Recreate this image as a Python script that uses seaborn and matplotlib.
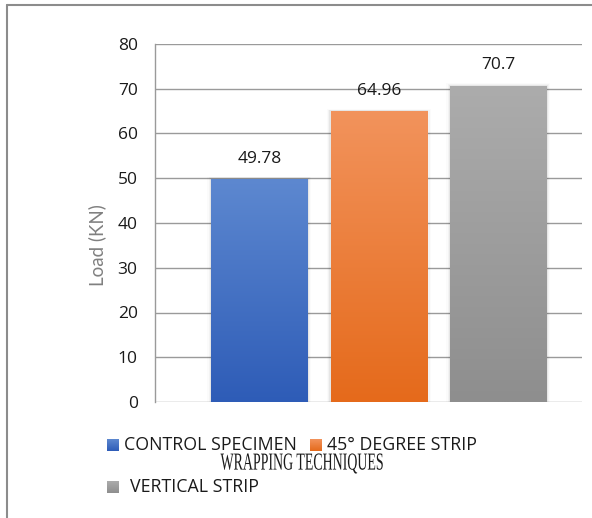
import numpy as np
import pandas as pd
import matplotlib
matplotlib.use("Agg")
import matplotlib.pyplot as plt
import seaborn as sns
from matplotlib.patches import Rectangle
from matplotlib.colors import LinearSegmentedColormap
from matplotlib.lines import Line2D
from matplotlib.patheffects import AbstractPathEffect
from matplotlib.transforms import Affine2D

techniques = ["CONTROL SPECIMEN", "45° DEGREE STRIP", "VERTICAL STRIP"]
loads = [49.78, 64.96, 70.7]
top_colors = ["#5d88d0", "#f2935c", "#acacac"]
bottom_colors = ["#2e5cb7", "#e56a1b", "#8e8e8e"]
y_ticks = [0, 10, 20, 30, 40, 50, 60, 70, 80]

df = pd.DataFrame({"technique": techniques, "load": loads})

sns.set_theme(style="white")
plt.rcParams["font.family"] = ["Open Sans", "DejaVu Sans"]

W, H = 592, 518
fig = plt.figure(figsize=(W / 100, H / 100), dpi=100)
ax = fig.add_axes([155 / W, 1 - 402 / H, (582 - 155) / W, (402 - 44) / H])

sns.barplot(data=df, x="technique", y="load", hue="technique",
            palette=top_colors, width=0.81, legend=False, ax=ax, zorder=3,
            linewidth=0, edgecolor="none")

ax.set_ylim(0, 80)
ax.set_xlim(-0.874, 2.70)
ax.set_yticks(y_ticks)
ax.set_yticklabels([str(t) for t in y_ticks], fontsize=12.5, color="#1a1a1a")
ax.tick_params(axis="y", length=0, pad=12.5)
ax.set_xticks([])
ax.set_xlabel("")
ax.set_ylabel("")
ax.yaxis.grid(True, color="#9a9a9a", linewidth=1.0, zorder=0)
for side in ["top", "right", "bottom"]:
    ax.spines[side].set_visible(False)
ax.spines["left"].set_color("#9a9a9a")
ax.spines["left"].set_linewidth(1.0)
ax.set_axisbelow(True)

# vertical gradient fills on each bar, with a soft shadow
grad = np.linspace(0, 1, 256).reshape(-1, 1)
for patch, top, bot, val in zip(ax.patches, top_colors, bottom_colors, loads):
    x0, y0 = patch.get_x(), patch.get_y()
    w, h = patch.get_width(), patch.get_height()
    for k, a in enumerate([0.05, 0.03, 0.015]):
        d = 0.01 * (k + 1)
        ax.add_patch(Rectangle((x0 - d, y0), w + 2 * d, h + 0.2 * (k + 1),
                               facecolor="black", alpha=a, edgecolor="none",
                               linewidth=0, zorder=2))
    cmap = LinearSegmentedColormap.from_list("g", [bot, top])
    im = ax.imshow(grad, cmap=cmap, origin="lower", aspect="auto",
                   extent=[x0, x0 + w, y0, y0 + h], zorder=4)
    im.set_clip_path(patch)
    ax.annotate(f"{val:g}", (x0 + w / 2, y0 + h), xytext=(0, 14.5),
                textcoords="offset points", ha="center", va="center",
                fontsize=12.5, color="#1a1a1a", zorder=5)
ax.set_xlim(-0.874, 2.70)
ax.set_ylim(0, 80)

fig.text(97 / W, 1 - 245 / H, "Load (KN)", rotation=90, ha="center", va="center",
         fontsize=13.5, color="#808080", family=["Lato", "DejaVu Sans"])


# legend entries with gradient swatches
def swatch(xpx, ypx, top, bot):
    sax = fig.add_axes([xpx / W, 1 - (ypx + 12) / H, 12 / W, 12 / H])
    cmap = LinearSegmentedColormap.from_list("s", [bot, top])
    sax.imshow(grad, cmap=cmap, origin="lower", aspect="auto")
    sax.set_axis_off()


legend_pos = [(107, 439, 124), (310, 439, 327), (107, 481, 130)]
for (sx, sy, tx), name, top, bot in zip(legend_pos, techniques, top_colors, bottom_colors):
    swatch(sx, sy, top, bot)
    fig.text(tx / W, 1 - (sy + 6) / H, name, ha="left", va="center",
             fontsize=12.8, color="#1a1a1a")


class Stretch(AbstractPathEffect):
    """Draw text narrower and taller than its font, keeping its centre in place."""

    def __init__(self, sx, sy, cx, cy):
        super().__init__()
        self.sx, self.sy, self.cx, self.cy = sx, sy, cx, cy

    def draw_path(self, renderer, gc, tpath, affine, rgbFace=None):
        t = affine + Affine2D().translate(-self.cx, -self.cy).scale(self.sx, self.sy) \
            .translate(self.cx, self.cy)
        renderer.draw_path(gc, tpath, t, rgbFace)


cx, cy = 302, H - 464
fig.text(cx / W, cy / H, "WRAPPING TECHNIQUES", ha="center", va="center",
         fontsize=11, color="#1a1a1a", family=["Liberation Serif", "DejaVu Serif"],
         path_effects=[Stretch(0.91, 1.6, cx, cy)])

# outer chart frame
fig.add_artist(Line2D([6.5 / W, 6.5 / W], [0, 1 - 5 / H], transform=fig.transFigure,
                      color="#8c8c8c", linewidth=1.5))
fig.add_artist(Line2D([6.5 / W, 1], [1 - 5 / H, 1 - 5 / H], transform=fig.transFigure,
                      color="#8c8c8c", linewidth=1.5))

fig.savefig("out.png", dpi=100)
